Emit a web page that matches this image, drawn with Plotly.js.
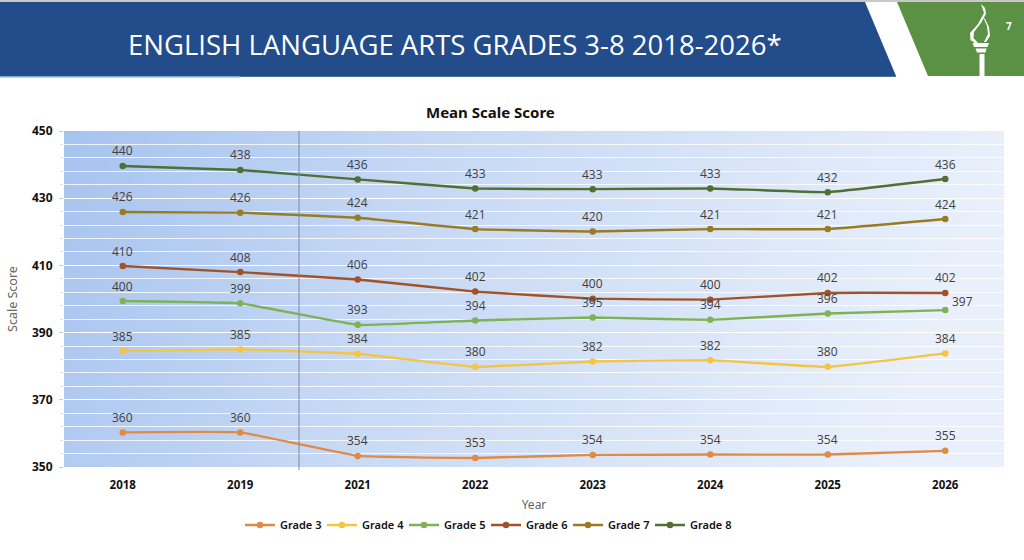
<!DOCTYPE html>
<html><head><meta charset="utf-8">
<script src="https://cdn.plot.ly/plotly-3.0.1.min.js"></script>
<style>html,body{margin:0;padding:0;background:#fff;overflow:hidden}#c{width:1024px;height:560px}</style>
</head><body><div id="c"></div>
<script>
const years = ['2018','2019','2021','2022','2023','2024','2025','2026'];
const grade3 = [360.3,360.3,353.3,352.7,353.6,353.7,353.7,354.8];
const grade4 = [384.5,385,383.7,379.8,381.4,381.8,379.8,383.8];
const grade5 = [399.4,398.7,392.3,393.6,394.5,393.8,395.7,396.7];
const grade6 = [409.8,408,405.8,402.2,400.1,399.8,401.8,401.8];
const grade7 = [425.9,425.7,424.2,420.8,420.1,420.8,420.8,423.8];
const grade8 = [439.6,438.4,435.6,432.9,432.7,432.9,431.8,435.7];
const labels3 = ['360','360','354','353','354','354','354','355'];
const labels4 = ['385','385','384','380','382','382','380','384'];
const labels5 = ['400','399','393','394','395','394','396','397'];
const labels6 = ['410','408','406','402','400','400','402','402'];
const labels7 = ['426','426','424','421','420','421','421','424'];
const labels8 = ['440','438','436','433','433','433','432','436'];
const names = ['Grade 3','Grade 4','Grade 5','Grade 6','Grade 7','Grade 8'];
const colors = ['#E08A45','#F5C542','#7FB255','#A0522A','#9A7B22','#4F6F34'];
const allValues = [grade3,grade4,grade5,grade6,grade7,grade8];
const allLabels = [labels3,labels4,labels5,labels6,labels7,labels8];

const traces = names.map((n,i)=>({
  type:'scatter',mode:'lines+markers',name:n,x:years,y:allValues[i],
  line:{color:colors[i],width:2.4,shape:'spline',smoothing:0.25},
  marker:{color:colors[i],size:6.5},hoverinfo:'skip'
}));

const annotations = [];
allValues.forEach((vals,i)=>vals.forEach((v,j)=>{
  const edge = (i===2 && j===7);
  annotations.push({x:j,y:v,xref:'x',yref:'y',text:allLabels[i][j],showarrow:false,
    xshift:edge?17:0,yshift:edge?9:15,font:{family:'Open Sans, Noto Sans, sans-serif',size:12,color:'#404040'}});
}));
const paperFont='Noto Sans, Open Sans, sans-serif';
function px(x){return (x-64)/940} function py(y){return (467-y)/336}
annotations.push(
 {xref:'paper',yref:'paper',x:px(455),y:py(44),text:'ENGLISH LANGUAGE ARTS GRADES 3-8 2018-2026*',showarrow:false,xanchor:'center',yanchor:'middle',font:{family:'Open Sans, sans-serif',size:27.5,color:'#fff'}},
 {xref:'paper',yref:'paper',x:px(1009),y:py(26),text:'<b>7</b>',showarrow:false,xanchor:'center',yanchor:'middle',font:{family:paperFont,size:10,color:'#fff'}},
 {xref:'paper',yref:'paper',x:px(490),y:py(112),text:'<b>Mean Scale Score</b>',showarrow:false,xanchor:'center',yanchor:'middle',font:{family:paperFont,size:15,color:'#111'}}
);
function poly(pts,fill){
  return {type:'path',xref:'paper',yref:'paper',layer:'above',fillcolor:fill,line:{width:0},
    path:pts.map((p,i)=>(i?'L':'M')+px(p[0])+','+py(p[1])).join(' ')+' Z'};
}
const shapes=[
 poly([[0,0],[1024,0],[1024,2],[0,2]],'#c8c8c8'),
 poly([[0,2],[865,2],[896,76],[0,76]],'#234C8A'),
 poly([[897,2],[1024,2],[1024,76],[928,76]],'#5B9145'),
 poly([[0,76],[240,76],[240,77.5],[0,77.5]],'#7FA8D8'),
 poly([[240,76],[896,76],[896,77],[240,77]],'#4A70A8'),
 poly([[979.5,76],[979.5,54],[984.5,54],[984.5,76]],'#fff'),
 poly([[972.5,43],[989,43],[987.5,47],[974,47]],'#fff'),
 poly([[975.5,48.5],[986.5,48.5],[985.5,52.5],[977,52.5]],'#fff'),
 poly([[981,4],[984,13],[978,24],[970,33],[970.5,40],[975,43],[978,43],[973.5,38],[974,32],[981,23],[986,14],[985,8]],'#fff'),
 poly([[983,17],[987,26],[988,34],[984,42],[986,42],[990,36],[989,27],[985,19]],'#fff'),
 {type:'line',xref:'x',yref:'paper',x0:1.5,x1:1.5,y0:py(131),y1:py(470),line:{color:'#7C8AA0',width:1},layer:'above'}
];
const bg='data:image/svg+xml;utf8,'+encodeURIComponent('<svg xmlns="http://www.w3.org/2000/svg" width="940" height="336" preserveAspectRatio="none"><defs><linearGradient id="g" x1="0" y1="0" x2="1" y2="0.15"><stop offset="0" stop-color="#A6C3EF"/><stop offset="0.4" stop-color="#C6D8F4"/><stop offset="1" stop-color="#E9F0FB"/></linearGradient></defs><rect width="940" height="336" fill="url(#g)"/></svg>');
Plotly.newPlot('c',traces,{
  width:1024,height:560,paper_bgcolor:'rgba(0,0,0,0)',plot_bgcolor:'rgba(0,0,0,0)',
  margin:{l:64,r:20,t:131,b:93,pad:0},showlegend:true,
  images:[{source:bg,xref:'paper',yref:'paper',x:0,y:1,sizex:1,sizey:1,sizing:'stretch',xanchor:'left',yanchor:'top',layer:'below'}],
  xaxis:{type:'category',categoryorder:'array',categoryarray:years,range:[-0.5,7.5],showgrid:false,zeroline:false,showline:false,ticks:'',
    tickfont:{family:paperFont,size:11.5,color:'#111',weight:700},ticklen:0,ticklabelstandoff:9,
    title:{text:'Year',font:{family:paperFont,size:12,color:'#666'},standoff:10}},
  yaxis:{range:[350,450],dtick:20,tick0:350,showgrid:true,gridcolor:'#fff',gridwidth:1,zeroline:false,showline:false,
    ticks:'outside',ticklen:4,tickcolor:'#ccc',ticklabelstandoff:4,tickfont:{family:paperFont,size:12,color:'#111',weight:700},
    minor:{dtick:4,tick0:350,showgrid:true,gridcolor:'rgba(255,255,255,0.8)',gridwidth:1,ticks:'outside',ticklen:3,tickcolor:'#ddd'},
    title:{text:'Scale Score',font:{family:paperFont,size:12.5,color:'#666'},standoff:11}},
  legend:{orientation:'h',x:px(240),xanchor:'left',y:py(525),yanchor:'middle',entrywidth:37,entrywidthmode:'pixels',
    font:{family:paperFont,size:11,color:'#111',weight:600},itemwidth:30,bgcolor:'rgba(0,0,0,0)'},
  annotations,shapes
},{staticPlot:true,displayModeBar:false});
</script></body></html>
